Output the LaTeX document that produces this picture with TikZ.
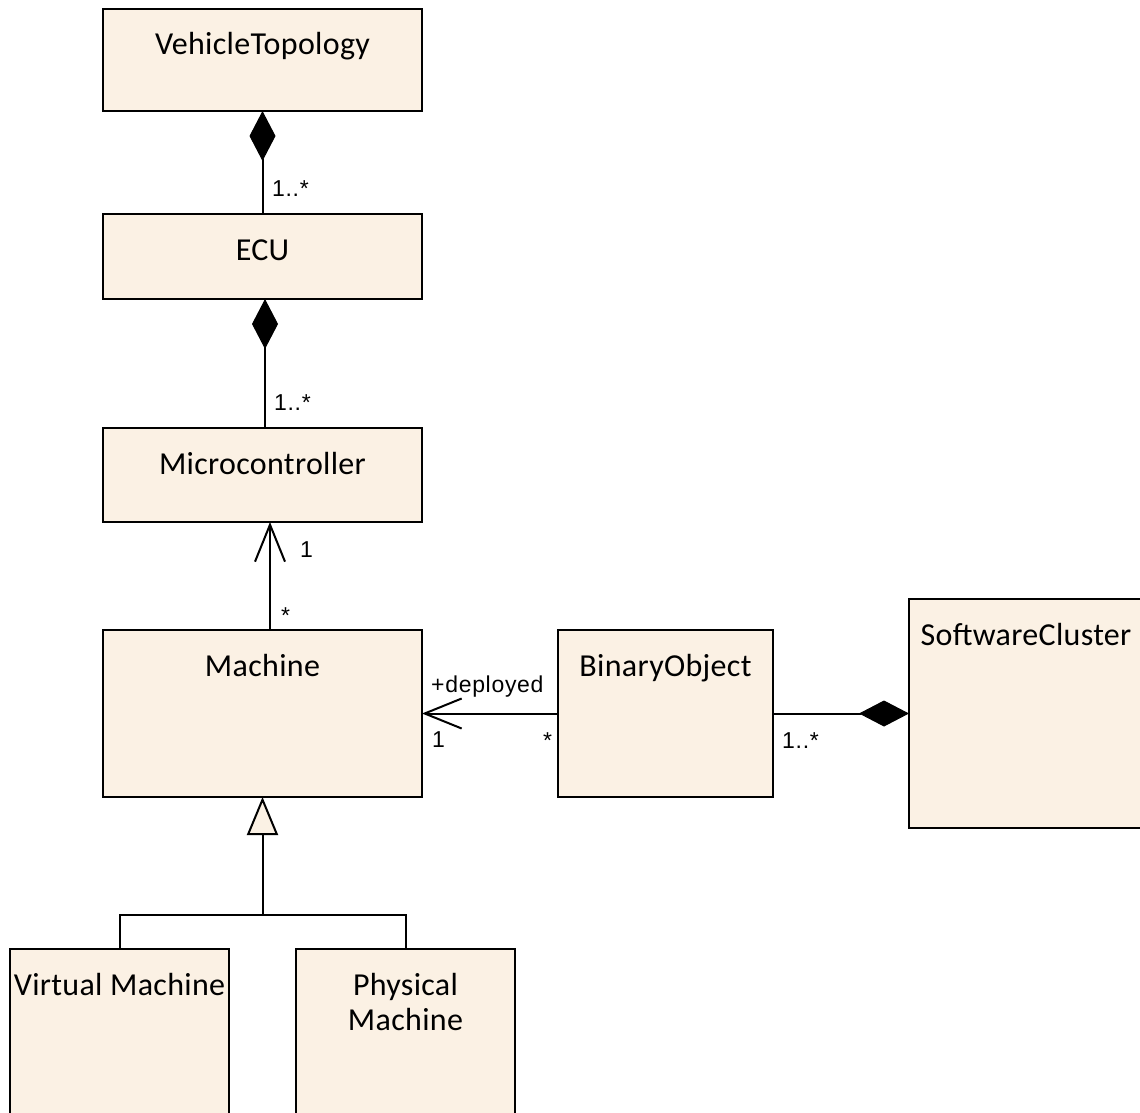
\documentclass[tikz,border=0pt]{standalone}
\usepackage{fontspec}
\usetikzlibrary{arrows.meta}
\newfontfamily\boxfont[LetterSpace=1]{Carlito}
\newfontfamily\lblfont[LetterSpace=3]{Liberation Sans}
\definecolor{boxfill}{RGB}{251,241,228}
\tikzset{
  umlbox/.style={draw=black, line width=2pt, fill=boxfill, anchor=north west, inner sep=0pt, outer sep=0pt},
  boxlbl/.style={font=\boxfont\fontsize{32}{35}\selectfont, inner sep=0pt, anchor=base, align=center},
  mult/.style={font=\lblfont\fontsize{23}{26}\selectfont, inner sep=0pt, anchor=base west},
  conn/.style={draw=black, line width=2pt},
  comp/.style={conn, -{Diamond[length=50pt,width=26pt,line width=1pt,fill=black]}},
  nav/.style={conn, -{Straight Barb[length=37pt,width=30pt,line width=2pt]}},
  gen/.style={conn, -{Triangle[length=38pt,width=31pt,line width=2pt,fill=boxfill]}}
}
\begin{document}
\begin{tikzpicture}[x=1pt,y=-1pt]
\useasboundingbox (0,0) rectangle (1140,1113);
\clip (0,0) rectangle (1140,1113);
% boxes
\node[umlbox, minimum width=319pt, minimum height=102pt] (vt) at (103,9) {};
\node[umlbox, minimum width=319pt, minimum height=85pt] (ecu) at (103,214) {};
\node[umlbox, minimum width=319pt, minimum height=94pt] (mc) at (103,428) {};
\node[umlbox, minimum width=319pt, minimum height=167pt] (mach) at (103,630) {};
\node[umlbox, minimum width=215pt, minimum height=167pt] (bo) at (558,630) {};
\node[umlbox, minimum width=234pt, minimum height=229pt] (sc) at (909,599) {};
\node[umlbox, minimum width=219pt, minimum height=200pt] (vm) at (10,949) {};
\node[umlbox, minimum width=219pt, minimum height=200pt] (pm) at (296,949) {};
% box labels
\node[boxlbl] (tvt) at ([yshift=-46pt]vt.north) {VehicleTopology};
\node[boxlbl] (tecu) at ([yshift=-46pt]ecu.north) {ECU};
\node[boxlbl] (tmc) at ([yshift=-46pt]mc.north) {Microcontroller};
\node[boxlbl] (tmach) at ([yshift=-46pt]mach.north) {Machine};
\node[boxlbl] (tbo) at ([yshift=-46pt]bo.north) {BinaryObject};
\node[boxlbl] (tsc) at ([yshift=-46pt]sc.north) {SoftwareCluster};
\node[boxlbl] (tvm) at ([yshift=-46pt]vm.north) {Virtual Machine};
\node[boxlbl, anchor=north] (tpm) at ([yshift=-24pt]pm.north) {Physical\\Machine};
% connectors
\draw[comp] (ecu.north) -- (vt.south);
\draw[comp] ([xshift=2.5pt]mc.north) -- ([xshift=2.5pt]ecu.south);
\draw[nav] ([xshift=7.5pt]mach.north) -- ([xshift=7.5pt]mc.south);
\draw[nav] (bo.west) -- (mach.east);
\draw[comp] (bo.east) -- (sc.west);
\coordinate (bus) at (262.5,915);
\draw[gen] (bus) -- (mach.south);
\draw[conn] (vm.north) |- (bus);
\draw[conn] (pm.north) |- (bus);
% multiplicities
\node[mult] (m1) at (272,196) {1..*};
\node[mult] (m2) at (274,410) {1..*};
\node[mult] (m3) at (300,557) {1};
\node[mult] (m4) at (281,623) {*};
\node[mult] (m5) at (431,692) {+deployed};
\node[mult] (m6) at (432,747) {1};
\node[mult] (m7) at (543,748) {*};
\node[mult] (m8) at (782,748) {1..*};
\end{tikzpicture}
\end{document}
